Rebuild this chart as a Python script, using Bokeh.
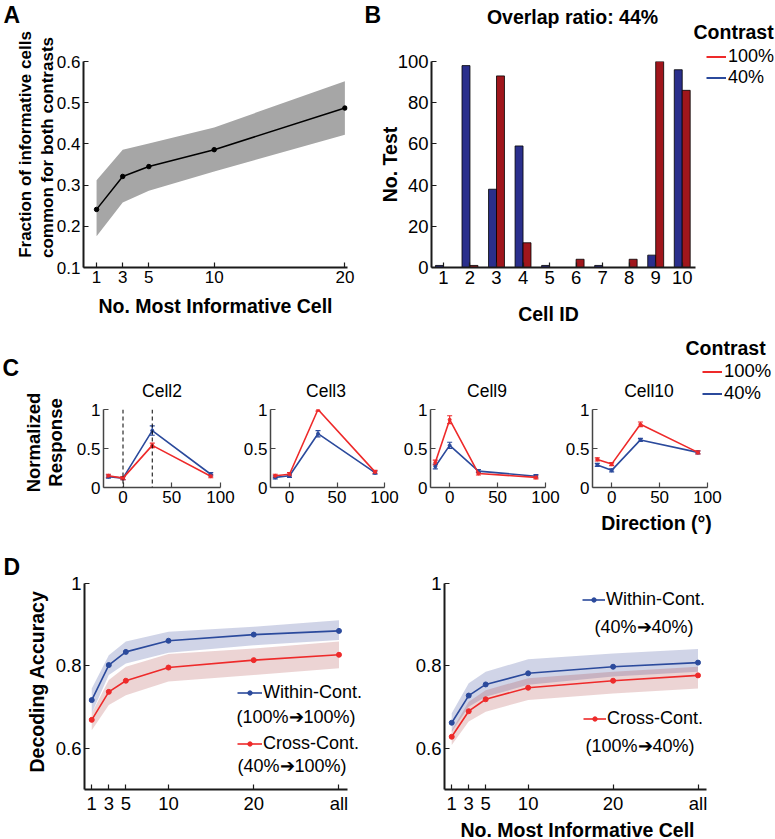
import math
from bokeh.plotting import figure
from bokeh.layouts import column, row
from bokeh.models import (ColumnDataSource, FixedTicker, Label, Legend, LegendItem,
                          Span, Whisker, TeeHead, Range1d, GridBox)
from bokeh.transform import dodge
from bokeh.embed import file_html
from bokeh.resources import INLINE

FONT = "Liberation Sans"

# ---------------- data ----------------
# Panel A
a_cells = [1, 3, 5, 10, 20]
a_xticks = [1, 3, 5, 10, 20]
a_yticks = [0.1, 0.2, 0.3, 0.4, 0.5, 0.6]
a_mean = [0.241, 0.321, 0.345, 0.386, 0.487]
a_upper = [0.312, 0.386, 0.401, 0.440, 0.552]
a_lower = [0.176, 0.258, 0.286, 0.333, 0.422]

# Panel B
b_cell_ids = [1, 2, 3, 4, 5, 6, 7, 8, 9, 10]
b_yticks = [0, 20, 40, 60, 80, 100]
b_test_40 = [1, 98, 38, 59, 1, 0, 1, 0, 6, 96]
b_test_100 = [0, 1, 93, 12, 0, 4, 0, 4, 100, 86]
b_overlap = "Overlap ratio: 44%"
contrast_labels = ["100%", "40%"]

# Panel C
c_dirs = [-15, 0, 30, 90]
c_names = ["Cell2", "Cell3", "Cell9", "Cell10"]
c_resp_100 = [[0.15, 0.12, 0.54, 0.145],
              [0.15, 0.17, 1.00, 0.20],
              [0.32, 0.87, 0.18, 0.13],
              [0.36, 0.30, 0.81, 0.45]]
c_resp_40 = [[0.14, 0.12, 0.73, 0.17],
             [0.13, 0.15, 0.69, 0.19],
             [0.27, 0.54, 0.21, 0.145],
             [0.29, 0.22, 0.61, 0.45]]
c_err_100 = [[0.02, 0.02, 0.03, 0.02],
             [0.02, 0.02, 0.02, 0.02],
             [0.03, 0.05, 0.02, 0.02],
             [0.02, 0.02, 0.03, 0.02]]
c_err_40 = [[0.02, 0.02, 0.06, 0.02],
            [0.02, 0.02, 0.04, 0.02],
            [0.03, 0.04, 0.02, 0.02],
            [0.02, 0.02, 0.02, 0.02]]
c_ref_dirs = [0, 30]
c_xticks = [0, 50, 100]
c_yticks = [0, 0.5, 1]
c_ylabels = ["0", "0.5", "1"]

# Panel D
d_cells = [1, 3, 5, 10, 20, 30]
d_xlabels = ["1", "3", "5", "10", "20", "all"]
d_yticks = [0.6, 0.8, 1.0]
d_ylabels = ["0.6", "0.8", "1"]
d1_within = [0.717, 0.802, 0.834, 0.861, 0.876, 0.885]
d1_within_hi = [0.745, 0.826, 0.859, 0.883, 0.895, 0.911]
d1_within_lo = [0.685, 0.778, 0.806, 0.832, 0.850, 0.863]
d1_cross = [0.669, 0.737, 0.764, 0.796, 0.814, 0.827]
d1_cross_hi = [0.685, 0.766, 0.798, 0.829, 0.842, 0.859]
d1_cross_lo = [0.644, 0.705, 0.729, 0.762, 0.778, 0.794]
d2_within = [0.662, 0.728, 0.755, 0.782, 0.798, 0.808]
d2_within_hi = [0.685, 0.758, 0.786, 0.816, 0.830, 0.841]
d2_within_lo = [0.640, 0.701, 0.725, 0.754, 0.774, 0.786]
d2_cross = [0.628, 0.690, 0.719, 0.747, 0.764, 0.777]
d2_cross_hi = [0.644, 0.713, 0.741, 0.770, 0.786, 0.798]
d2_cross_lo = [0.608, 0.665, 0.689, 0.717, 0.733, 0.745]
d_series = ["Within-Cont.", "Cross-Cont."]
d1_pairs = ["(100%➔100%)", "(40%➔100%)"]
d2_pairs = ["(40%➔40%)", "(100%➔40%)"]

# ---------------- styles ----------------
BLUE = "#2B4A9C"
RED = "#EE2A2A"
BAR_BLUE = "#2A2F8C"
BAR_RED = "#A0161C"
BAND_BLUE = "#3A4C9A"
BAND_RED = "#A83A3A"
W, H = 775, 839


def make_fig(w, h, left, right, top, bottom, xr, yr):
    p = figure(width=w, height=h, x_range=Range1d(*xr), y_range=Range1d(*yr),
               output_backend="svg", toolbar_location=None,
               min_border_left=left, min_border_right=right,
               min_border_top=top, min_border_bottom=bottom)
    p.outline_line_color = None
    p.xgrid.visible = False
    p.ygrid.visible = False
    p.background_fill_color = "white"
    p.border_fill_color = "white"
    return p


def style_axes(p, color, width, size):
    for ax in (p.xaxis[0], p.yaxis[0]):
        ax.axis_line_color = color
        ax.axis_line_width = width
        ax.major_tick_line_color = color
        ax.major_tick_line_width = 1.2
        ax.major_tick_in = 5
        ax.major_tick_out = 0
        ax.minor_tick_line_color = None
        ax.major_label_text_font = FONT
        ax.major_label_text_font_size = f"{size}px"
        ax.major_label_text_color = "black"
        ax.major_label_standoff = 3


# ---------------- Panel A ----------------
pa = make_fig(360, 325, 83, 13, 61, 58, (0, 20.2), (0.1, 0.6))
src_a = ColumnDataSource(dict(x=a_cells, m=a_mean, lo=a_lower, hi=a_upper))
pa.varea(x="x", y1="lo", y2="hi", source=src_a, fill_color="#A6A6A6")
pa.line("x", "m", source=src_a, line_color="black", line_width=1.5)
pa.scatter("x", "m", source=src_a, size=4.5, color="black")
style_axes(pa, "#1A1A1A", 2, 17)
pa.xaxis.ticker = FixedTicker(ticks=a_xticks)
pa.yaxis.ticker = FixedTicker(ticks=a_yticks)

# ---------------- Panel B ----------------
pb = make_fig(415, 325, 71, 80, 61, 58, (0.55, 10.5), (0, 100))
src_b = ColumnDataSource(dict(cell=b_cell_ids, t40=b_test_40, t100=b_test_100))
pb.vbar(x=dodge("cell", -0.15, range=pb.x_range), top="t40", width=0.3, source=src_b,
        fill_color=BAR_BLUE, line_color="black", line_width=0.8)
pb.vbar(x=dodge("cell", 0.15, range=pb.x_range), top="t100", width=0.3, source=src_b,
        fill_color=BAR_RED, line_color="black", line_width=0.8)
style_axes(pb, "#1A1A1A", 2, 18.5)
pb.xaxis.ticker = FixedTicker(ticks=b_cell_ids)
pb.yaxis.ticker = FixedTicker(ticks=b_yticks)

# ---------------- Panel C ----------------
c_geom = [(240, 103, 20), (160, 27, 16), (162, 28, 17), (213, 28, 68)]
c_figs = []
for i, (w, left, right) in enumerate(c_geom):
    p = make_fig(w, 210, left, right, 84, 48, (-20, 100), (0, 1))
    if i == 0:
        for d in c_ref_dirs:
            p.add_layout(Span(location=d, dimension="height", line_color="black",
                              line_dash="4 3", line_width=1))
    for resp, err, col in ((c_resp_40[i], c_err_40[i], BLUE), (c_resp_100[i], c_err_100[i], RED)):
        src = ColumnDataSource(dict(x=c_dirs, y=resp,
                                    up=[v + e for v, e in zip(resp, err)],
                                    lo=[v - e for v, e in zip(resp, err)]))
        p.line("x", "y", source=src, line_color=col, line_width=1.6)
        p.scatter("x", "y", source=src, size=3, color=col)
        p.add_layout(Whisker(base="x", upper="up", lower="lo", source=src,
                             line_color=col, line_width=1.2,
                             upper_head=TeeHead(size=5, line_color=col, line_width=1.2),
                             lower_head=TeeHead(size=5, line_color=col, line_width=1.2)))
    style_axes(p, "#454545", 1.5, 17)
    p.xaxis.ticker = FixedTicker(ticks=c_xticks)
    p.yaxis.ticker = FixedTicker(ticks=c_yticks)
    p.yaxis.major_label_overrides = {t: s for t, s in zip(c_yticks, c_ylabels)}
    c_figs.append(p)


# ---------------- Panel D ----------------
def d_panel(w, left, right, within, w_lo, w_hi, cross, c_lo, c_hi):
    p = make_fig(w, 304, left, right, 48, 50, (0.15, 31), (0.5, 1.0))
    src = ColumnDataSource(dict(x=d_cells, w=within, wlo=w_lo, whi=w_hi,
                                c=cross, clo=c_lo, chi=c_hi))
    p.varea(x="x", y1="wlo", y2="whi", source=src, fill_color=BAND_BLUE, fill_alpha=0.24)
    p.varea(x="x", y1="clo", y2="chi", source=src, fill_color=BAND_RED, fill_alpha=0.22)
    p.line("x", "w", source=src, line_color=BLUE, line_width=1.6)
    p.scatter("x", "w", source=src, size=5, color=BLUE)
    p.line("x", "c", source=src, line_color=RED, line_width=1.6)
    p.scatter("x", "c", source=src, size=5, color=RED)
    style_axes(p, "#1A1A1A", 2, 18.5)
    p.xaxis.ticker = FixedTicker(ticks=d_cells)
    p.xaxis.major_label_overrides = {t: s for t, s in zip(d_cells, d_xlabels)}
    p.yaxis.ticker = FixedTicker(ticks=d_yticks)
    p.yaxis.major_label_overrides = {t: s for t, s in zip(d_yticks, d_ylabels)}
    return p


d1 = d_panel(377, 84, 30, d1_within, d1_within_lo, d1_within_hi,
             d1_cross, d1_cross_lo, d1_cross_hi)
d2 = d_panel(398, 67, 69, d2_within, d2_within_lo, d2_within_hi,
             d2_cross, d2_cross_lo, d2_cross_hi)

main = column(row(pa, pb), row(*c_figs), row(d1, d2))

# ---------------- text overlay (page pixel coordinates) ----------------
ov = figure(width=W, height=H, x_range=Range1d(0, W), y_range=Range1d(0, H),
            output_backend="svg", toolbar_location=None, min_border=0,
            x_axis_location=None, y_axis_location=None)
ov.outline_line_color = None
ov.xgrid.visible = False
ov.ygrid.visible = False
ov.background_fill_alpha = 0
ov.border_fill_alpha = 0
# legend proxies are drawn through a range that lies far outside the canvas
ov.extra_x_ranges = {"off": Range1d(-1000, -999)}
ov.extra_y_ranges = {"off": Range1d(-1000, -999)}


def T(px, py, s, size, bold=False, align="left", baseline="middle", angle=0.0):
    ov.add_layout(Label(x=px, y=H - py, text=s,
                        text_font=FONT, text_font_size=f"{size}px",
                        text_font_style="bold" if bold else "normal",
                        text_align=align, text_baseline=baseline, angle=angle,
                        text_color="black"))


def L(items, px, py_bottom, size, glyph_w=20, glyph_h=21, standoff=2):
    lg = Legend(items=items, location=(px, H - py_bottom))
    lg.border_line_color = None
    lg.background_fill_alpha = 0
    lg.padding = 0
    lg.margin = 0
    lg.spacing = 0
    lg.glyph_width = glyph_w
    lg.glyph_height = glyph_h
    lg.label_height = 21
    lg.label_standoff = standoff
    lg.label_text_font = FONT
    lg.label_text_font_size = f"{size}px"
    lg.label_text_color = "black"
    ov.add_layout(lg)


def proxy(xs, ys, color, marker=False):
    rs = [ov.line(x=xs, y=ys, line_color=color, line_width=2 if not marker else 1.6,
                  x_range_name="off", y_range_name="off")]
    if marker:
        rs.append(ov.scatter(x=xs, y=ys, size=5, color=color,
                             x_range_name="off", y_range_name="off"))
    return rs


R90 = math.pi / 2
# panel letters
T(3, 1, "A", 23, bold=True, baseline="top")
T(364, 1, "B", 23, bold=True, baseline="top")
T(2, 354, "C", 23, bold=True, baseline="top")
T(3, 553, "D", 23, bold=True, baseline="top")

# Panel A texts
T(25, 144, "Fraction of informative cells", 17, bold=True, align="center", angle=R90)
T(47, 147, "common for both contrasts", 17, bold=True, align="center", angle=R90)
T(215, 305, "No. Most Informative Cell", 19.5, bold=True, align="center")

# Panel B texts
T(572, 16, b_overlap, 19.5, bold=True, align="center")
T(389, 164, "No. Test", 19.5, bold=True, align="center", angle=R90)
T(548, 313, "Cell ID", 19.5, bold=True, align="center")
T(693, 31, "Contrast", 19.5, bold=True)
L([LegendItem(label=contrast_labels[0], renderers=proxy(b_cell_ids, b_test_100, RED)),
   LegendItem(label=contrast_labels[1], renderers=proxy(b_cell_ids, b_test_40, BLUE))],
  706, 88, 18)

# Panel C texts
for name, cx in zip(c_names, [161.5, 325.5, 486.5, 648.5]):
    T(cx, 390, name, 17.5, align="center")
T(33, 442, "Normalized", 18.5, bold=True, align="center", angle=R90)
T(55, 442, "Response", 18.5, bold=True, align="center", angle=R90)
T(685, 347, "Contrast", 19.5, bold=True)
L([LegendItem(label=contrast_labels[0], renderers=proxy(c_dirs, c_resp_100[3], RED)),
   LegendItem(label=contrast_labels[1], renderers=proxy(c_dirs, c_resp_40[3], BLUE))],
  702, 404, 18.5)
T(656, 522, "Direction (°)", 19.5, bold=True, align="center")

# Panel D texts
T(36, 681, "Decoding Accuracy", 19.5, bold=True, align="center", angle=R90)
L([LegendItem(label=d_series[0], renderers=proxy(d_cells, d1_within, BLUE, True))],
  237, 702.5, 18, glyph_w=25, glyph_h=11, standoff=1)
T(236, 716, d1_pairs[0], 18)
L([LegendItem(label=d_series[1], renderers=proxy(d_cells, d1_cross, RED, True))],
  237, 753.5, 18, glyph_w=25, glyph_h=11, standoff=1)
T(237, 765, d1_pairs[1], 18)
L([LegendItem(label=d_series[0], renderers=proxy(d_cells, d2_within, BLUE, True))],
  582, 609.5, 18, glyph_w=23, glyph_h=11, standoff=1)
T(594, 626, d2_pairs[0], 18)
L([LegendItem(label=d_series[1], renderers=proxy(d_cells, d2_cross, RED, True))],
  583, 728.5, 18, glyph_w=23, glyph_h=11, standoff=1)
T(585, 745, d2_pairs[1], 18)
T(577, 829, "No. Most Informative Cell", 19.5, bold=True, align="center")

page = GridBox(children=[(main, 0, 0), (ov, 0, 0)])

open("out.html", "w").write(file_html(page, INLINE))
